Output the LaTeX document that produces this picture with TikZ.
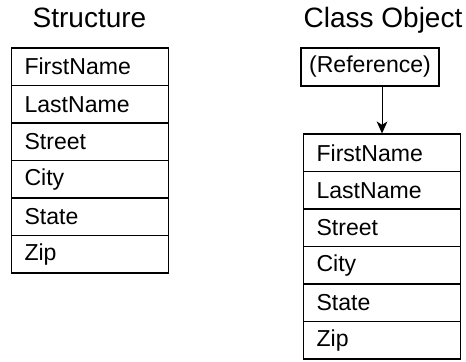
\documentclass[tikz,border=0pt]{standalone}
\usepackage{fontspec}
\setmainfont{Liberation Sans}
\usetikzlibrary{arrows.meta}
\begin{document}
\begin{tikzpicture}[
  x=0.75pt, y=-0.75pt,
  field/.style={draw,line width=0.8pt,anchor=west,minimum width=117.75pt,
    minimum height=28.1pt,text width=98.25pt,inner xsep=9.75pt,inner ysep=0pt,
    align=left,font=\fontsize{17.3}{20}\selectfont},
  title/.style={anchor=base,inner sep=0pt,font=\fontsize{21}{25}\selectfont},
  refbox/.style={draw,line width=0.8pt,minimum width=103.5pt,minimum height=28.5pt,
    inner sep=0pt,font=\fontsize{17.3}{20}\selectfont},
  link/.style={line width=0.8pt,-{Stealth[length=9pt,width=8pt,inset=2.5pt]}}
]
  \useasboundingbox (0,0) rectangle (466,361);

  \node[title] (tstruct) at (89.5,27) {Structure};
  \node[title] (tclass)  at (383,27)  {Class Object};

  \node[field] (s1) at (11,66.75)  {FirstName};
  \node[field] (s2) at (11,104.25) {LastName};
  \node[field] (s3) at (11,141.75) {Street};
  \node[field] (s4) at (11,179.25) {City};
  \node[field] (s5) at (11,216.75) {State};
  \node[field] (s6) at (11,254.25) {Zip};

  \node[refbox] (ref) at (370,67) {(Reference)};

  \node[field] (o1) at (303,152.75) {FirstName};
  \node[field] (o2) at (303,190.25) {LastName};
  \node[field] (o3) at (303,227.75) {Street};
  \node[field] (o4) at (303,265.25) {City};
  \node[field] (o5) at (303,302.75) {State};
  \node[field] (o6) at (303,340.25) {Zip};

  \draw[link] (o1.north |- ref.south) -- (o1.north);
\end{tikzpicture}
\end{document}
